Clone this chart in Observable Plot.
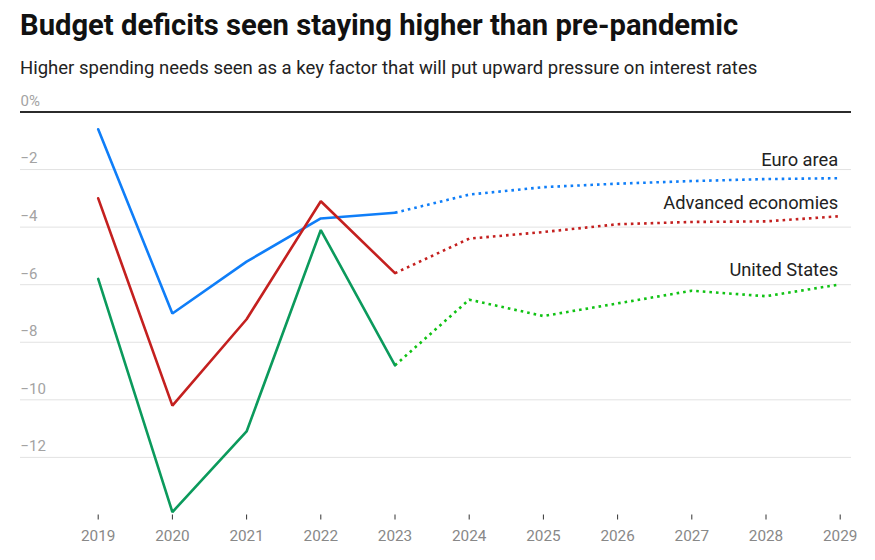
<!DOCTYPE html>
<html>
<head>
<meta charset="utf-8">
<script src="https://cdn.jsdelivr.net/npm/d3@7"></script>
<script src="https://cdn.jsdelivr.net/npm/@observablehq/plot@0.6"></script>
<style>
  html, body { margin: 0; padding: 0; background: #fff; }
  body { font-family: Roboto, "Noto Sans", sans-serif; width: 875px; height: 560px; position: relative; overflow: hidden; }
  #title { position: absolute; left: 20px; top: 10.5px; font-size: 29.2px; line-height: 29px; font-weight: 700; color: #111; white-space: nowrap; }
  #subtitle { position: absolute; left: 20px; top: 58.5px; font-size: 18.5px; line-height: 18px; color: #222; white-space: nowrap; }
  #header { height: 85px; }
  #chart svg { display: block; }
</style>
</head>
<body>
<div id="header"></div>
<div id="title">Budget deficits seen staying higher than pre-pandemic</div>
<div id="subtitle">Higher spending needs seen as a key factor that will put upward pressure on interest rates</div>
<div id="chart"></div>
<script>
const years = [2019, 2020, 2021, 2022, 2023, 2024, 2025, 2026, 2027, 2028, 2029];
const lastActualYear = 2023;
const euroArea      = [-0.6, -7.0, -5.2, -3.7, -3.5, -2.87, -2.61, -2.49, -2.40, -2.33, -2.30];
const advanced      = [-3.0, -10.2, -7.2, -3.1, -5.6, -4.40, -4.17, -3.90, -3.82, -3.80, -3.62];
const unitedStates  = [-5.8, -13.9, -11.1, -4.1, -8.8, -6.52, -7.09, -6.65, -6.21, -6.40, -5.99];
const seriesNames   = ["Euro area", "Advanced economies", "United States"];
const yTicks = [0, -2, -4, -6, -8, -10, -12];

const solidColors  = {"Euro area": "#0f7ef8", "Advanced economies": "#c4201f", "United States": "#0b9a5c"};
const dottedColors = {"Euro area": "#0f7ef8", "Advanced economies": "#c4201f", "United States": "#10c214"};
const labelDy = {"Euro area": -18, "Advanced economies": -13, "United States": -14};

const valuesBySeries = {"Euro area": euroArea, "Advanced economies": advanced, "United States": unitedStates};
const rows = [];
for (const s of seriesNames) {
  years.forEach((y, i) => rows.push({series: s, year: y, value: valuesBySeries[s][i]}));
}
const actual = rows.filter(d => d.year <= lastActualYear);
const projected = rows.filter(d => d.year >= lastActualYear);
const lastPoints = rows.filter(d => d.year === years[years.length - 1]);

const fmtTick = d => d === 0 ? "0%" : "\u2212" + Math.abs(d);

const W = 875, H = 475;
const mL = 97.7, mR = 35.3, mT = 26.5, mB = 47;
const gridLeft = 20, gridRight = 851;
const insL = -(mL - gridLeft), insR = -(gridRight - (W - mR));

const plot = Plot.plot({
  width: W,
  height: H,
  marginLeft: mL,
  marginRight: mR,
  marginTop: mT,
  marginBottom: mB,
  style: {fontFamily: "Roboto, 'Noto Sans', sans-serif", background: "#fff"},
  x: {domain: [2019, 2029], axis: null},
  y: {domain: [-13.95, 0], axis: null},
  marks: [
    Plot.ruleY(yTicks.filter(d => d !== 0), {stroke: "#e2e2e2", strokeWidth: 1, insetLeft: insL, insetRight: insR}),
    Plot.text(yTicks, {y: d => d, text: fmtTick, frameAnchor: "left", textAnchor: "start", dx: insL, dy: -11, fill: "#a3a3a3", fontSize: 15}),
    Plot.axisX({ticks: years, tickFormat: d => String(d), tickSize: 5, tickPadding: 10, fontSize: 15.3, color: "#888", stroke: "#333", dy: 1.5, label: null}),
    Plot.line(projected, {x: "year", y: "value", z: "series", stroke: d => dottedColors[d.series], strokeWidth: 2.6, strokeDasharray: "2.6,4", strokeLinecap: "butt"}),
    Plot.line(actual, {x: "year", y: "value", z: "series", stroke: d => solidColors[d.series], strokeWidth: 2.6, strokeLinejoin: "miter"}),
    Plot.ruleY([0], {stroke: "#2b2b2b", strokeWidth: 2, insetLeft: insL, insetRight: insR}),
    ...seriesNames.map(s => Plot.text(lastPoints.filter(d => d.series === s), {x: "year", y: "value", text: "series", textAnchor: "end", dx: -2, dy: labelDy[s], fill: "#222", fontSize: 18.3}))
  ]
});
document.getElementById("chart").appendChild(plot);
</script>
</body>
</html>
